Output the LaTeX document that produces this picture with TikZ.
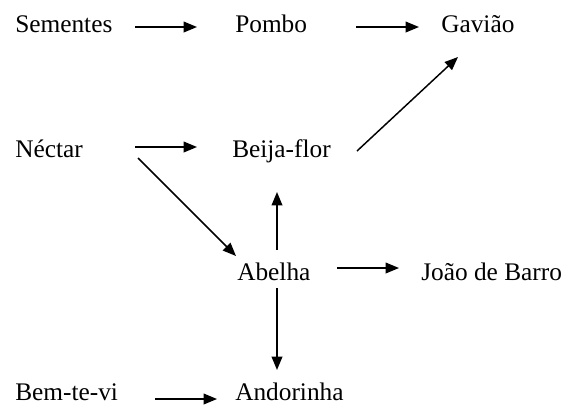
\documentclass[tikz,border=0pt]{standalone}
\usepackage{fontspec}
\setmainfont{Liberation Serif}
\usetikzlibrary{calc,arrows.meta}
\begin{document}
\begin{tikzpicture}[x=0.75pt,y=-0.75pt,
  lbl/.style={anchor=base west,inner sep=0pt,font=\fontsize{19}{23}\selectfont},
  arr/.style={line width=1.1pt,-{Triangle[length=10pt,width=8pt]}}]
\useasboundingbox[fill=white] (0,0) rectangle (569,405);
\node[lbl] (sem) at (15,32) {Sementes};
\node[lbl] (pom) at (235,32) {Pombo};
\node[lbl] (gav) at (441,32) {Gavião};
\node[lbl] (nec) at (15,157) {Néctar};
\node[lbl] (bei) at (232,157) {Beija-flor};
\node[lbl] (abe) at (237,280) {Abelha};
\node[lbl] (joa) at (421,280) {João de Barro};
\node[lbl] (bem) at (15,400) {Bem-te-vi};
\node[lbl] (and) at (235,400) {Andorinha};
\draw[arr] ($(sem.base west)+(120,-5)$) -- ($(pom.base west)+(-38,-5)$);
\draw[arr] ($(pom.base west)+(121,-5)$) -- ($(gav.base west)+(-22,-5)$);
\draw[arr] ($(nec.base west)+(120,-10)$) -- ($(bei.base west)+(-35,-10)$);
\draw[arr] ($(bei.base west)+(125,-6)$) -- ($(gav.base west)+(17,25)$);
\draw[arr] ($(nec.base west)+(123,1)$) -- ($(abe.base west)+(-1,-24)$);
\draw[arr] ($(abe.base west)+(40,-30)$) -- ($(bei.base west)+(45,35)$);
\draw[arr] ($(abe.base west)+(100,-12)$) -- ($(joa.base west)+(-22,-12)$);
\draw[arr] ($(abe.base west)+(40,8)$) -- ($(and.base west)+(42,-30)$);
\draw[arr] ($(bem.base west)+(140,-1)$) -- ($(and.base west)+(-18,-1)$);
\end{tikzpicture}
\end{document}
